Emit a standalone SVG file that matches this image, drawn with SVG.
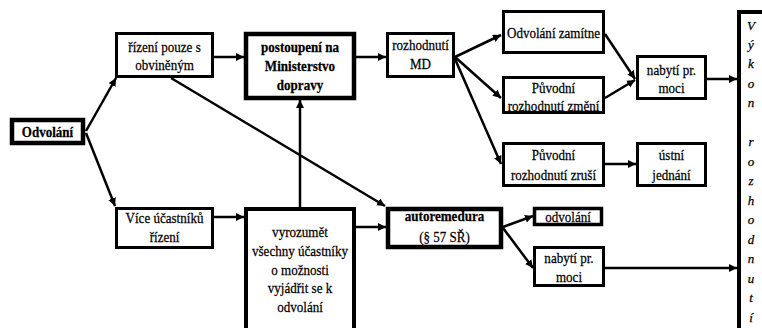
<svg xmlns="http://www.w3.org/2000/svg" width="762" height="328" viewBox="0 0 762 328">
<style>
.bx{fill:#fff;stroke:#000;stroke-width:3}
.tk{stroke-width:4.5}
text{font-family:'Liberation Serif','Times New Roman',serif;fill:#000;stroke:#000;stroke-width:0.25;text-anchor:middle}
.t{font-size:15px}
.b{font-weight:bold}
.v{font-size:13px;font-style:italic}
.c line{stroke:#000;stroke-width:2.5;marker-end:url(#a)}
</style>
<defs>
<marker id="a" markerUnits="userSpaceOnUse" markerWidth="9" markerHeight="9" refX="8" refY="4" orient="auto">
<path d="M0,0 L8,4 L0,8 z" fill="#000"/>
</marker>
</defs>
<rect width="762" height="328" fill="#fff"/>
<g class="c" id="connectors">
<line x1="86" y1="131" x2="116" y2="78"/>
<line x1="86" y1="133" x2="115" y2="206"/>
<line x1="214" y1="57" x2="244" y2="57"/>
<line x1="171" y1="78" x2="385" y2="206"/>
<line x1="356" y1="57" x2="386" y2="57"/>
<line x1="300" y1="207" x2="300" y2="100"/>
<line x1="214" y1="217" x2="244" y2="217"/>
<line x1="356" y1="227" x2="386" y2="227"/>
<line x1="455" y1="57" x2="501" y2="35"/>
<line x1="455" y1="57" x2="501" y2="98"/>
<line x1="455" y1="59" x2="501" y2="164"/>
<line x1="605" y1="34" x2="635" y2="79"/>
<line x1="605" y1="98" x2="635" y2="80"/>
<line x1="707" y1="79" x2="737" y2="79"/>
<line x1="605" y1="164" x2="636" y2="164"/>
<line x1="503" y1="227" x2="533" y2="216"/>
<line x1="503" y1="228" x2="533" y2="268"/>
<line x1="605" y1="268" x2="737" y2="268"/>
</g>
<g id="odvolani">
<rect class="bx tk" x="12" y="120" width="71" height="23"/>
<text class="t b" transform="translate(47.5,137) scale(0.87,1)">Odvolání</text>
</g>
<g id="rizeni-obvineny">
<rect class="bx" x="116.5" y="33.5" width="96" height="43"/>
<text class="t" transform="translate(164.5,52) scale(0.87,1)"><tspan x="0" y="0">řízení pouze s</tspan><tspan x="0" y="18">obviněným</tspan></text>
</g>
<g id="postoupeni">
<rect class="bx tk" x="246" y="34" width="108" height="64"/>
<text class="t b" transform="translate(300,52) scale(0.87,1)"><tspan x="0" y="0">postoupení na</tspan><tspan x="0" y="19">Ministerstvo</tspan><tspan x="0" y="38">dopravy</tspan></text>
</g>
<g id="rozhodnuti-md">
<rect class="bx" x="387.5" y="33.5" width="66" height="43"/>
<text class="t" transform="translate(420.5,50) scale(0.87,1)"><tspan x="0" y="0">rozhodnutí</tspan><tspan x="0" y="19">MD</tspan></text>
</g>
<g id="odvolani-zamitne">
<rect class="bx" x="503.5" y="11.5" width="100" height="41"/>
<text class="t" transform="translate(553.5,38) scale(0.87,1)">Odvolání zamítne</text>
</g>
<g id="puvodni-zmeni">
<rect class="bx" x="503.5" y="77.5" width="100" height="35"/>
<text class="t" transform="translate(553.5,93) scale(0.87,1)"><tspan x="0" y="0">Původní</tspan><tspan x="0" y="18">rozhodnutí změní</tspan></text>
</g>
<g id="puvodni-zrusi">
<rect class="bx" x="503.5" y="143.5" width="100" height="42"/>
<text class="t" transform="translate(553.5,160) scale(0.87,1)"><tspan x="0" y="0">Původní</tspan><tspan x="0" y="20">rozhodnutí zruší</tspan></text>
</g>
<g id="nabyti-1">
<rect class="bx" x="637.5" y="56.5" width="68" height="42"/>
<text class="t" transform="translate(671.5,75) scale(0.87,1)"><tspan x="0" y="0">nabytí pr.</tspan><tspan x="0" y="18">moci</tspan></text>
</g>
<g id="ustni-jednani">
<rect class="bx" x="637.5" y="143.5" width="68" height="42"/>
<text class="t" transform="translate(671.5,160) scale(0.87,1)"><tspan x="0" y="0">ústní</tspan><tspan x="0" y="20">jednání</tspan></text>
</g>
<g id="vykon">
<rect class="bx" x="739" y="12" width="40" height="330" style="stroke-width:4"/>
<text class="v"><tspan x="751" y="30">V</tspan><tspan x="751" y="49">ý</tspan><tspan x="751" y="68">k</tspan><tspan x="751" y="88">o</tspan><tspan x="751" y="107">n</tspan><tspan x="751" y="146">r</tspan><tspan x="751" y="166">o</tspan><tspan x="751" y="185">z</tspan><tspan x="751" y="205">h</tspan><tspan x="751" y="224">o</tspan><tspan x="751" y="244">d</tspan><tspan x="751" y="263">n</tspan><tspan x="751" y="283">u</tspan><tspan x="751" y="302">t</tspan><tspan x="751" y="322">í</tspan></text>
</g>
<g id="vice-ucastniku">
<rect class="bx" x="116.5" y="208.5" width="96" height="39"/>
<text class="t" transform="translate(164.5,223) scale(0.87,1)"><tspan x="0" y="0">Více účastníků</tspan><tspan x="0" y="19">řízení</tspan></text>
</g>
<g id="vyrozumet">
<rect class="bx" x="246" y="209" width="108" height="130" style="stroke-width:4"/>
<text class="t" transform="translate(300,237) scale(0.87,1)"><tspan x="0" y="0">vyrozumět</tspan><tspan x="0" y="19">všechny účastníky</tspan><tspan x="0" y="38">o možnosti</tspan><tspan x="0" y="56">vyjádřit se k</tspan><tspan x="0" y="75">odvolání</tspan></text>
</g>
<g id="autoremedura">
<rect class="bx tk" x="388" y="209" width="113" height="38"/>
<text class="t" transform="translate(444.5,221) scale(0.87,1)"><tspan class="b" x="0" y="0">autoremedura</tspan><tspan x="0" y="21">(§ 57 SŘ)</tspan></text>
</g>
<g id="odvolani-2">
<rect class="bx" x="534.5" y="208.5" width="67" height="16" style="stroke-width:3.5"/>
<text class="t" transform="translate(568,222) scale(0.87,1)">odvolání</text>
</g>
<g id="nabyti-2">
<rect class="bx" x="534.5" y="247.5" width="69" height="38"/>
<text class="t" transform="translate(569,263) scale(0.87,1)"><tspan x="0" y="0">nabytí pr.</tspan><tspan x="0" y="19">moci</tspan></text>
</g>
</svg>
